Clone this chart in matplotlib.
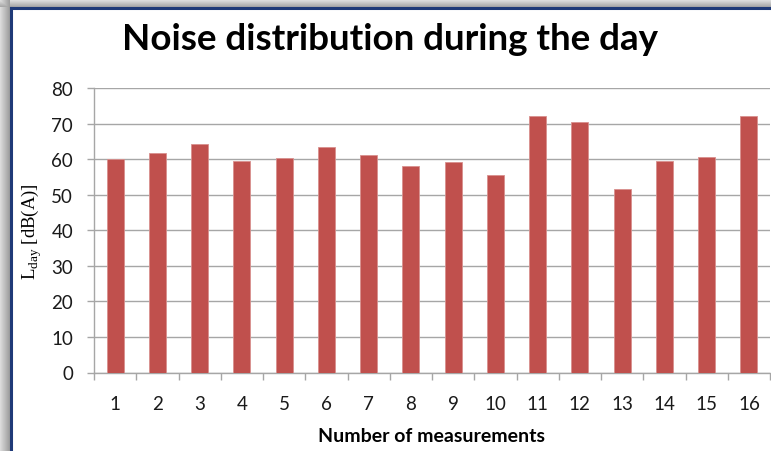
import numpy as np
import matplotlib
matplotlib.use("Agg")
import matplotlib.pyplot as plt
from matplotlib.lines import Line2D

# measurement number and day-time level L_day in dB(A)
measurements = [str(i) for i in range(1, 17)]
l_day = [60.1, 61.6, 64.2, 59.5, 60.4, 63.4, 61.3, 58.2,
         59.2, 55.5, 72.1, 70.3, 51.6, 59.5, 60.6, 72.1]
y_ticks = [0, 10, 20, 30, 40, 50, 60, 70, 80]

W, H = 771, 452
fig = plt.figure(figsize=(W / 100, H / 100), dpi=100)

# background with soft shadow on the left and top of the chart frame
bg = np.ones((H, W, 3))
shade = np.linspace(0.86, 0.62, 10)
for i, s in enumerate(shade):
    bg[:, i, :] = np.minimum(bg[:, i, :], s)
shade_top = np.linspace(0.9, 0.66, 8)
for j, s in enumerate(shade_top):
    bg[j, :, :] = np.minimum(bg[j, :, :], s)
bg_ax = fig.add_axes([0, 0, 1, 1], zorder=-5)
bg_ax.imshow(bg, aspect="auto", interpolation="bilinear")
bg_ax.axis("off")

# dark blue frame line
frame_col = "#1F3A78"
fig.add_artist(Line2D([11 / W, 11 / W], [0, 1 - 8.5 / H], color=frame_col, lw=2.2))
fig.add_artist(Line2D([11 / W, 1], [1 - 9 / H, 1 - 9 / H], color=frame_col, lw=2.2))

ax = fig.add_axes([94 / W, 1 - 373.5 / H, 676 / W, (373.5 - 89) / H])
x = np.arange(len(measurements))
ax.bar(x, l_day, width=0.4, color="#C0504D", edgecolor="#D8908E",
       linewidth=0.6, zorder=3)

ax.set_xlim(-0.5, len(measurements) - 0.5)
ax.set_ylim(0, 80)
ax.set_yticks(y_ticks)
ax.set_yticklabels([str(v) for v in y_ticks])
ax.set_xticks(x)
ax.set_xticklabels(measurements)
ax.set_xticks(np.arange(-0.5, len(measurements)), minor=True)

grid_col = "#A6A6A6"
ax.yaxis.grid(True, color=grid_col, lw=1.0, zorder=0)
for side in ["top", "right"]:
    ax.spines[side].set_visible(False)
for side in ["left", "bottom"]:
    ax.spines[side].set_color(grid_col)
    ax.spines[side].set_linewidth(1.0)

tick_font = "Lato"
ax.tick_params(axis="y", length=5, width=1, color=grid_col, pad=10,
               labelsize=13.5, labelcolor="#1a1a1a")
ax.tick_params(axis="x", which="major", length=0, pad=16.5,
               labelsize=13.5, labelcolor="#1a1a1a")
ax.tick_params(axis="x", which="minor", length=5, width=1, color=grid_col)
for lab in ax.get_xticklabels() + ax.get_yticklabels():
    lab.set_fontfamily(tick_font)

fig.text(390 / W, 1 - 40 / H, "Noise distribution during the day",
         ha="center", va="center", fontsize=26.5, fontweight="bold",
         family="Lato", color="black")
fig.text(431 / W, 1 - 437 / H, "Number of measurements",
         ha="center", va="center", fontsize=14, fontweight="bold",
         family="Lato", color="black")
fig.text(32 / W, 1 - 232 / H, r"L$_{\mathregular{day}}$ [dB(A)]",
         ha="center", va="center", rotation=90, fontsize=13.5,
         family="Liberation Serif", color="black")

fig.savefig("out.png", dpi=100)
